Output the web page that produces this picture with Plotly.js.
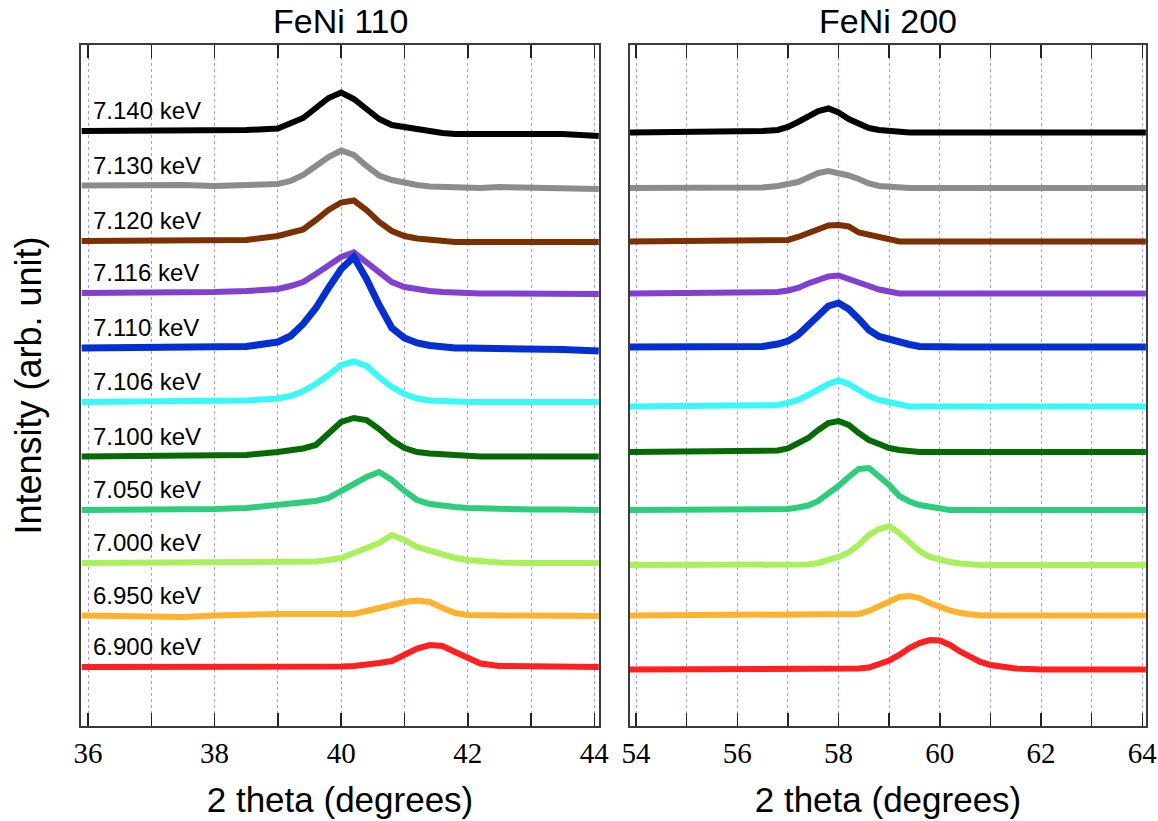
<!DOCTYPE html>
<html>
<head>
<meta charset="utf-8">
<script src="https://cdn.plot.ly/plotly-3.0.1.min.js"></script>
<style>html,body{margin:0;padding:0;background:#fff;}#chart{width:1158px;height:821px;}</style>
</head>
<body>
<div id="chart"></div>
<script>
// ---------- data ----------
const energyLabels = ['7.140 keV','7.130 keV','7.120 keV','7.116 keV','7.110 keV','7.106 keV','7.100 keV','7.050 keV','7.000 keV','6.950 keV','6.900 keV'];

// 2 theta (degrees) sample positions
const theta110 = [35.9,36.5,37,37.5,38,38.5,39,39.2,39.4,39.6,39.8,40,40.2,40.4,40.6,40.8,41,41.2,41.4,41.6,41.8,42,42.2,42.5,43,43.5,44.07];
const theta200 = [53.88,54.5,55,55.5,56,56.5,56.8,57,57.2,57.4,57.6,57.8,58,58.2,58.4,58.6,58.8,59,59.2,59.4,59.6,59.8,60,60.2,60.4,60.6,60.8,61,61.2,61.5,62,62.5,63,63.5,64.07];

// FeNi 110 intensities (arb. unit, stacked)
const i110_7140 = [595,595,595,595,595,596,597.5,602,608,618,628,633.5,627,617,607,601,599,596,594,593,592,592,592,592,592,592,590];
const i110_7130 = [540.5,541,540,541,540,541,542,545,551,560,569,575.5,571,560,550.5,546,543,541,539.5,539,538.5,538.5,538,539,538,538,537];
const i110_7120 = [485,485,485,485,485.5,486,490,493,496.5,506,516,523.5,525.5,516,504,495,490,487.5,486,484.5,484,484,484,484,484,484,484];
const i110_7116 = [433,433,433.5,434,434,435,437,440,444,452,461,469,473.5,464,453,444,439,436.5,435,434,433,433,432.5,432.5,432,432,432];
const i110_7110 = [378,378,378,378,378.5,379.5,384,390,402,418,438,457,469,447,421,398,388,383,380.5,379,378,378,378,377.5,377,376.5,375];
const i110_7106 = [324,324,324,324,324.5,325.5,327.5,330,335,342,351,361,364.5,360,349,339,332,327.5,325.5,324.5,324,324,324,324,324,324,324];
const i110_7100 = [269.5,269.5,269.5,269.5,270,271,274,275.5,277.5,281,293,304,308,306,297,286,278,274,272.5,271.5,270.5,270,269.5,269.5,269.5,269.5,269.5];
const i110_7050 = [216,216,216,216.5,217,218,220.5,221.5,223,225,228,235,243,249,254,246,235,226,222,220,219,218,217.5,217,216.5,216.5,216];
const i110_7000 = [163,163,163,163,163,163,163.5,164,164,164.5,166,168,173,178,183,191,186,179,175,171,168,166,164.5,163.5,163,163,163];
const i110_6950 = [110.5,110,110,109,110.5,112,112,112,112,112,112,112,112,115,118.5,122,124,125.5,124,118,113,111,110.5,110.5,110.5,110.5,110];
const i110_6900 = [59,59,58,59,59,59,59,59,59,59,59,59.5,60,61,63,65,70.5,77.5,81,80,74,67.5,62.5,60,59.5,59.5,59];

// FeNi 200 intensities (arb. unit, stacked)
const i200_7140 = [593.5,593.5,593.5,593.5,593.5,595,596,599,604,610,615,617.5,613.5,607,602,598,596,595,593.5,593.5,593.5,593.5,593.5,593.5,593.5,593.5,593.5,593.5,593.5,593.5,593.5,593.5,593.5,593.5,593.5];
const i200_7130 = [538,538,538,538,538,538.5,540,541.5,544,548.5,553,555,553.5,550.5,547,542.5,540,539,538,538,538,538,538,538,538,538,538,538,538,538,538,538,538,538,538];
const i200_7120 = [484.5,484.5,484.5,484.5,484.5,485,485.5,486,489,493,497,500.5,501,499.5,493.5,491.5,489,486.5,484.5,484.5,484.5,484.5,484.5,484.5,484.5,484.5,484.5,484.5,484.5,484.5,484.5,484.5,484.5,484.5,484.5];
const i200_7116 = [432.5,432.5,432.5,432.5,432.5,433,434,435.5,438,442.5,446.5,449.5,450.5,447.5,443,440,436.5,434,432.5,432.5,432.5,432.5,432.5,432.5,432.5,432.5,432.5,432.5,432.5,432.5,432.5,432.5,432.5,432.5,432.5];
const i200_7110 = [379,379,379,379,379,379.5,382,385,391,400,411,420,423,417,407,396,389.5,386.5,384,381.5,379.5,379,379,379,379,379,379,379,379,379,379,379,379,379,379];
const i200_7106 = [319.5,319.5,319.5,319.5,319.5,320,321,323,326,331,336.5,342,345.5,342,336,330,326,323.5,321.5,319.5,319.5,319.5,319.5,319.5,319.5,319.5,319.5,319.5,319.5,319.5,319.5,319.5,319.5,319.5,319.5];
const i200_7100 = [274,274,274,274,274,274.5,275.5,277.5,282,288,296,303,305,301,293,286,282,278,276,274.5,274,274,274,274,274,274,274,274,274,274,274,274,274,274,274];
const i200_7050 = [216,216,216,216,216,216,216.5,217,218.5,220.5,225,232,240,249,257,258,250,241,230,224.5,221,219,217.5,216,216,216,216,216,216,216,216,216,216,216,216];
const i200_7000 = [161,161,161,161,161,161,161,161,161,161.5,163,165.5,169,173.5,181,191,197,200,193,184,175,169,166,164,162.5,161,161,161,161,161,161,161,161,161,161];
const i200_6950 = [110.5,110.5,110.5,110.5,110.5,110.5,110.5,110.5,110.5,110.5,110.5,110.5,110.5,111,112,115,120,125,129,130,128,123,119,115.5,113,111.5,110.5,110.5,110.5,110.5,110.5,110.5,110.5,110.5,110.5];
const i200_6900 = [56.5,56.5,56.5,56.5,56.5,56.5,56.5,56.5,56.5,56.5,56.5,56.5,56.5,56.5,57.5,58.5,61.5,65.5,71,78,83,86,85.5,81,74.5,68.5,64,61,59,57.5,56.5,56.5,56.5,56.5,56.5];

const ticks110 = [36,37,38,39,40,41,42,43,44];
const tickText110 = ['36','','38','','40','','42','','44'];
const ticks200 = [54,55,56,57,58,59,60,61,62,63,64];
const tickText200 = ['54','','56','','58','','60','','62','','64'];

// ---------- styles ----------
const colors = ['#000000','#8c8c8c','#7a3000','#8040d0','#0530d0','#38f8f8','#046a04','#2ecc7c','#a8f05c','#ffb22e','#ff2020'];
const widths = [6,6,6,6,7,6,6,6,6,6,6];

const series110 = [i110_7140,i110_7130,i110_7120,i110_7116,i110_7110,i110_7106,i110_7100,i110_7050,i110_7000,i110_6950,i110_6900];
const series200 = [i200_7140,i200_7130,i200_7120,i200_7116,i200_7110,i200_7106,i200_7100,i200_7050,i200_7000,i200_6950,i200_6900];

const traces = [];
series110.forEach((ys, k) => traces.push({
  x: theta110, y: ys, xaxis: 'x', yaxis: 'y', type: 'scatter', mode: 'lines',
  name: energyLabels[k] + ' (110)', line: {color: colors[k], width: widths[k]}, showlegend: false
}));
series200.forEach((ys, k) => traces.push({
  x: theta200, y: ys, xaxis: 'x2', yaxis: 'y2', type: 'scatter', mode: 'lines',
  name: energyLabels[k] + ' (200)', line: {color: colors[k], width: widths[k]}, showlegend: false
}));

const annotations = energyLabels.map((t, k) => ({
  text: t, x: 36.05, y: series110[k][0] + 20.5, xref: 'x', yref: 'y',
  xanchor: 'left', yanchor: 'middle', showarrow: false,
  font: {family: 'Liberation Sans, Arial, sans-serif', size: 24, color: '#000'}
}));
annotations.push({text: 'FeNi 110', x: 0.2432, xref: 'paper', y: 1, yref: 'paper', yshift: 24, xanchor: 'center', yanchor: 'middle', showarrow: false,
  font: {family: 'Liberation Sans, Arial, sans-serif', size: 34, color: '#000'}});
annotations.push({text: 'FeNi 200', x: 0.7578, xref: 'paper', y: 1, yref: 'paper', yshift: 24, xanchor: 'center', yanchor: 'middle', showarrow: false,
  font: {family: 'Liberation Sans, Arial, sans-serif', size: 34, color: '#000'}});

const xCommon = {
  showline: true, linecolor: '#3a3a3a', linewidth: 2, mirror: 'allticks',
  ticks: 'inside', ticklen: 13, tickwidth: 1.5, tickcolor: '#222',
  showgrid: true, gridcolor: '#9a9aff', gridwidth: 1, griddash: 'dot',
  zeroline: false, tickmode: 'array',
  tickfont: {family: 'Liberation Serif, Times New Roman, serif', size: 29, color: '#000'},
  title: {text: '2 theta (degrees)', standoff: 20, font: {family: 'Liberation Sans, Arial, sans-serif', size: 35, color: '#000'}}
};
const yCommon = {
  range: [0, 681], showline: true, linecolor: '#3a3a3a', linewidth: 2, mirror: true,
  ticks: '', showticklabels: false, showgrid: false, zeroline: false
};

const layout = {
  width: 1158, height: 821,
  margin: {l: 81, r: 12, t: 45, b: 95},
  paper_bgcolor: '#fff', plot_bgcolor: '#fff',
  showlegend: false,
  xaxis: Object.assign({}, xCommon, {domain: [0, 0.4864], range: [35.889, 44.074], tickvals: ticks110, ticktext: tickText110, anchor: 'y'}),
  xaxis2: Object.assign({}, xCommon, {domain: [0.5155, 1], range: [53.881, 64.073], tickvals: ticks200, ticktext: tickText200, anchor: 'y2'}),
  yaxis: Object.assign({}, yCommon, {anchor: 'x',
    title: {text: 'Intensity (arb. unit)', standoff: 26, font: {family: 'Liberation Sans, Arial, sans-serif', size: 36, color: '#000'}}}),
  yaxis2: Object.assign({}, yCommon, {anchor: 'x2'}),
  annotations: annotations
};

Plotly.newPlot('chart', traces, layout, {staticPlot: true, displayModeBar: false});
</script>
</body>
</html>
